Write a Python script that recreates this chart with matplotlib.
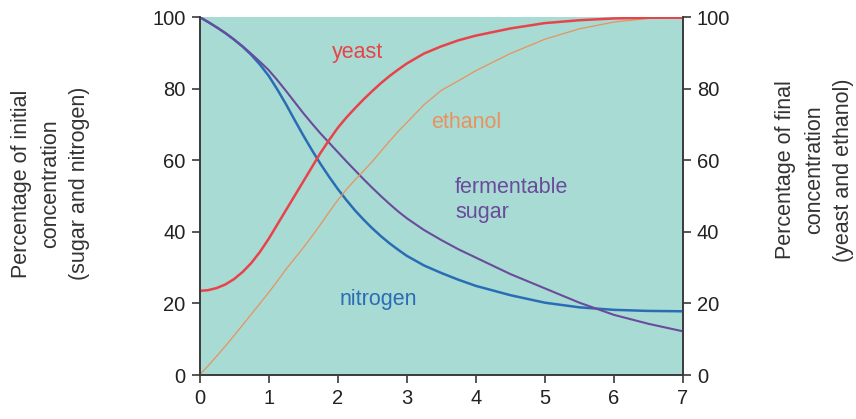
import matplotlib
matplotlib.use("Agg")
import matplotlib.pyplot as plt

plt.rcParams['font.family'] = ['Liberation Sans', 'DejaVu Sans']

time = [0, 0.125, 0.25, 0.375, 0.5, 0.625, 0.75, 0.875, 1, 1.125, 1.25, 1.375, 1.5,
        1.625, 1.75, 1.875, 2, 2.125, 2.25, 2.375, 2.5, 2.625, 2.75, 2.875, 3,
        3.25, 3.5, 3.75, 4, 4.5, 5, 5.5, 6, 6.5, 7]
yeast = [23.5, 23.7, 24.3, 25.3, 26.8, 28.8, 31.3, 34.4, 38, 42, 46, 50, 54,
         58, 62, 65.6, 69, 71.9, 74.5, 77, 79.3, 81.5, 83.5, 85.3, 87,
         89.8, 91.8, 93.5, 94.8, 96.8, 98.3, 99.1, 99.6, 99.8, 99.8]
ethanol = [0, 2.6, 5.3, 8.1, 11, 14, 17, 20, 23, 26.2, 29.5, 32.5, 35.5,
           38.7, 42, 45.5, 48.8, 51.8, 54.5, 57, 59.6, 62.5, 65.3, 68, 70.5,
           75.5, 79.5, 82.2, 85, 89.8, 93.8, 96.7, 98.6, 99.6, 100]
nitrogen = [100, 98.6, 97.1, 95.5, 93.7, 91.7, 89.4, 86.7, 83.6, 79.8, 75.7, 71.3, 67,
            62.9, 59, 55.4, 52, 48.9, 46, 43.4, 41, 38.8, 36.8, 35, 33.3,
            30.6, 28.5, 26.6, 24.9, 22.3, 20.2, 18.9, 18.2, 17.9, 17.8]
sugar = [100, 98.6, 97.1, 95.5, 93.7, 91.8, 89.7, 87.5, 85.2, 82.4, 79.4, 76.3, 73.2,
         70.3, 67.5, 64.9, 62.3, 59.7, 57.2, 54.7, 52.3, 50.0, 47.8, 45.7, 43.8,
         40.5, 37.7, 35.1, 32.8, 28.2, 24.2, 20.2, 16.8, 14.3, 12.2]

xticks = [0, 1, 2, 3, 4, 5, 6, 7]
yticks = [0, 20, 40, 60, 80, 100]

c_yeast = '#e8434a'
c_eth = '#e8925e'
c_nit = '#2a6db5'
c_sug = '#6b4b9c'
bg = '#a8dbd3'
spine_c = '#3a3a3a'

fig = plt.figure(figsize=(8.56, 4.19), dpi=100)
ax = fig.add_axes([0.2331, 0.105, 0.5648, 0.8544])
ax.set_facecolor(bg)

ax.plot(time, nitrogen, color=c_nit, lw=1.8, zorder=3)
ax.plot(time, sugar, color=c_sug, lw=1.5, zorder=3)
ax.plot(time, ethanol, color=c_eth, lw=0.9, zorder=3)
ax.plot(time, yeast, color=c_yeast, lw=1.8, zorder=4)

ax.set_xlim(0, 7)
ax.set_ylim(0, 100)
ax.set_xticks(xticks)
ax.set_yticks(yticks)
ax.tick_params(direction='out', length=6, width=1.2, color=spine_c,
               labelsize=14.5, pad=4, labelcolor='#222222')
ax.spines['top'].set_visible(False)
for s in ['left', 'bottom', 'right']:
    ax.spines[s].set_color(spine_c)
    ax.spines[s].set_linewidth(1.2)

ax2 = ax.twinx()
ax2.set_ylim(0, 100)
ax2.set_yticks(yticks)
ax2.tick_params(direction='out', length=6, width=1.2, color=spine_c,
                labelsize=14.5, pad=4, labelcolor='#222222')
ax2.spines['top'].set_visible(False)
for s in ['left', 'bottom', 'right']:
    ax2.spines[s].set_color(spine_c)
    ax2.spines[s].set_linewidth(1.2)

ax.set_ylabel('Percentage of initial\nconcentration\n(sugar and nitrogen)',
              fontsize=15.5, color='#333333', linespacing=1.5)
ax2.set_ylabel('Percentage of final\nconcentration\n(yeast and ethanol)',
               fontsize=15.5, color='#333333', linespacing=1.5, rotation=90)
ax.yaxis.set_label_coords(-0.226, 0.535)
ax2.yaxis.set_label_coords(1.190, 0.573)

ax.text(2.29, 90.2, 'yeast', color=c_yeast, fontsize=15.5, ha='center', va='center')
ax.text(3.86, 70.4, 'ethanol', color=c_eth, fontsize=15.5, ha='center', va='center')
ax.text(3.70, 49, 'fermentable\nsugar', color=c_sug, fontsize=15.5, ha='left',
        va='center', linespacing=1.25)
ax.text(2.59, 21, 'nitrogen', color=c_nit, fontsize=15.5, ha='center', va='center')

fig.savefig('out.png', dpi=100)
